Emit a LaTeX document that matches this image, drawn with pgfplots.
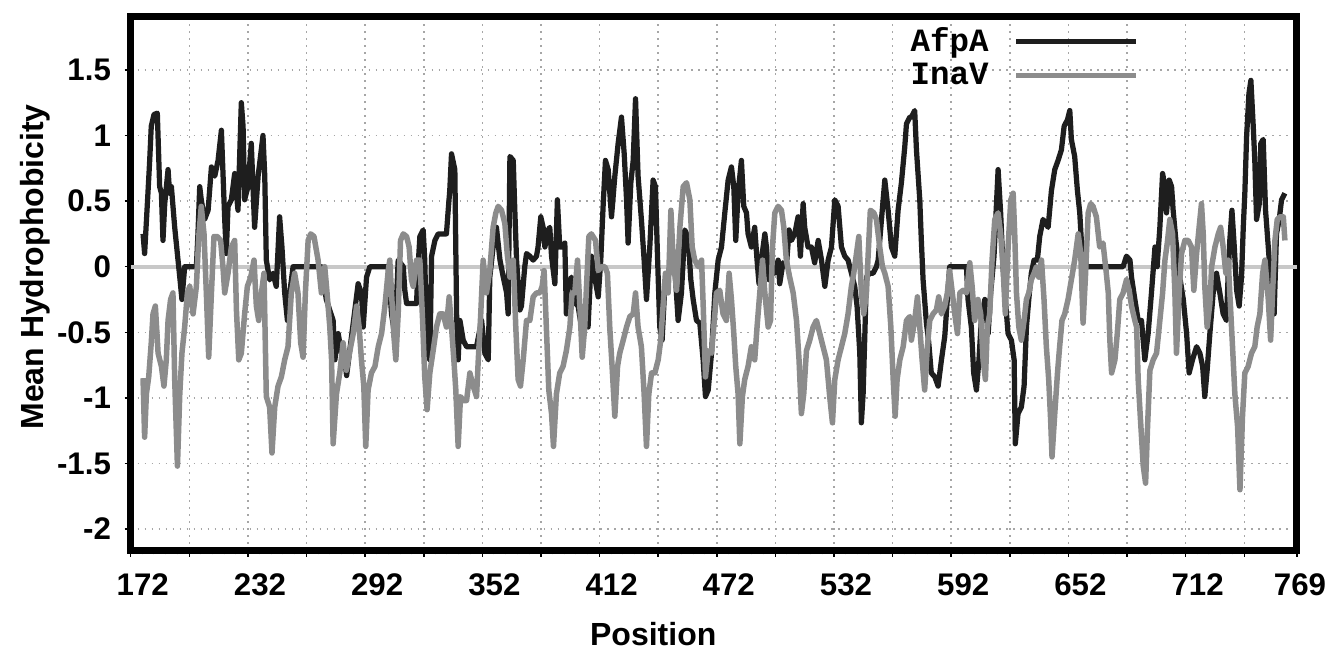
\documentclass[border=0pt]{standalone}
\usepackage{fontspec}
\setmainfont{Liberation Sans}
\newfontfamily\monofont{Liberation Mono}
\usepackage{pgfplots}
\pgfplotsset{compat=1.18}

\definecolor{afpa}{HTML}{1E1E1E}
\definecolor{inav}{HTML}{8C8C8C}
\definecolor{zeroline}{HTML}{C8C8C8}

\begin{document}
\begin{tikzpicture}
\begin{axis}[
    scale only axis,
    width=466.5pt, height=213.6pt,
    xmin=172, xmax=769, ymin=-2.167, ymax=1.903,
    axis line style={line width=2.8pt, black},
    xtick={172,202,...,742},
    xticklabels={172,,232,,292,,352,,412,,472,,532,,592,,652,,712,},
    extra x ticks={769},
    extra x tick labels={769},
    extra x tick style={grid=none, xticklabel style={xshift=-3.6pt}},
    ytick={-2,-1.5,...,1.5},
    minor x tick num=4,
    minor y tick num=4,
    xtick pos=left, ytick pos=left,
    tick align=outside,
    major tick length=2.4pt, minor tick length=1.4pt,
    every tick/.style={black, line width=0.6pt},
    grid=major,
    major grid style={gray!70, line width=0.6pt, dash pattern=on 0.7pt off 2.1pt},
    /pgf/number format/assume math mode=true,
    tick label style={font=\bfseries\fontsize{12.5}{14}\selectfont},
    xticklabel style={anchor=north, xshift=4.8pt, yshift=-3pt},
    yticklabel style={xshift=-2pt},
    xlabel={Position},
    ylabel={Mean Hydrophobicity},
    label style={font=\bfseries\fontsize{12.8}{14}\selectfont},
    xlabel style={at={(axis description cs:0.448,-0.155)}, anchor=center},
    ylabel style={at={(axis description cs:-0.0815,0.532)}, anchor=center},
    legend plot pos=right,
    legend image code/.code={\draw[#1] (0pt,0pt) -- (48pt,0pt);},
    legend style={at={(axis description cs:0.664,0.990)}, anchor=north west,
        draw=none, fill=none, inner sep=0pt, row sep=-1pt, column sep=8pt,
        font=\monofont\bfseries\fontsize{13}{15}\selectfont,
        cells={anchor=east}},
]
\addplot[zeroline, line width=1.6pt, forget plot] coordinates {(172,0) (769,0)};

\addplot[afpa, line width=2.1pt, line join=round] coordinates {
(178.3,0.25) (179.1,0.10) (180.8,0.56) (181.7,0.81) (182.5,1.07) (183.9,1.16) (185.6,1.17)
(186.8,0.61) (187.7,0.56) (188.5,0.20) (189.4,0.48) (191.1,0.74) (191.9,0.56) (192.8,0.61)
(194.5,0.30) (196.2,0.05) (197.1,-0.08) (198.2,-0.25) (199.6,0) (205.6,0) (206.4,0.25)
(207.3,0.61) (208.1,0.51) (209.8,0.36) (211.6,0.43) (213.3,0.76) (215.0,0.69) (216.7,0.81)
(218.4,1.04) (220.1,0.36) (220.9,0.10) (221.8,0.46) (223.5,0.51) (225.2,0.71) (226.9,0.43)
(228.6,1.25) (229.5,1.07) (230.3,0.51) (232.0,0.61) (233.7,0.94) (235.4,0.30) (237.2,0.69)
(239.7,1.00) (240.6,0.69) (241.4,0.05) (243.1,-0.10) (244.8,-0.05) (246.5,-0.15) (248.2,0.38)
(249.4,0.15) (250.8,-0.20) (252.2,-0.41) (253.4,-0.20) (255.1,0) (269.6,0) (272.1,-0.25)
(275.6,-0.41) (276.5,-0.71) (278.2,-0.51) (279.9,-0.66) (280.7,-0.61) (282.5,-0.83)
(288.4,-0.13) (290.1,-0.20) (291.0,-0.46) (292.7,-0.08) (294.4,0) (303.8,0) (305.5,-0.36)
(307.2,-0.53) (308.9,0.05) (311.5,0) (312.3,-0.18) (313.2,-0.28) (318.3,-0.28) (319.1,0)
(320.0,0.23) (321.7,0.28) (322.5,0.05) (323.7,-0.66) (325.1,-0.71) (326.0,0.08) (327.7,0.20)
(329.4,0.25) (333.6,0.25) (334.5,0.43) (335.3,0.58) (336.2,0.86) (337.9,0.74) (338.8,-0.36)
(339.6,-0.71) (340.5,-0.41) (342.2,-0.56) (343.9,-0.61) (349.0,-0.61) (351.6,-0.41)
(353.3,-0.66) (355.0,-0.71) (355.8,-0.08) (357.5,0.15) (359.2,0.30) (361.0,0.05) (362.7,-0.08)
(364.4,-0.20) (365.2,-0.36) (366.1,0.84) (367.8,0.81) (368.6,0.43) (369.5,0.05) (371.2,-0.33)
(372.0,-0.30) (373.7,0) (374.6,0.10) (376.3,0.08) (378.0,0.05) (379.7,0.08) (380.5,0.15)
(381.9,0.38) (383.1,0.30) (384.0,0.15) (385.7,0.28) (386.5,0.30) (387.4,0.08) (389.1,-0.13)
(390.4,0.51) (391.6,0.15) (393.3,0.15) (394.2,0.18) (395.0,-0.36) (395.9,-0.15) (397.6,-0.08)
(398.5,-0.15) (399.7,-0.28) (401.0,-0.30) (402.7,-0.46) (403.6,-0.36) (406.1,-0.46)
(407.8,0.08) (409.5,-0.08) (411.3,-0.23) (412.6,0.05) (413.8,0.46) (415.0,0.81) (416.4,0.74)
(418.1,0.38) (419.8,0.69) (421.5,0.94) (423.2,1.14) (424.6,0.86) (425.8,0.51) (426.6,0.18)
(428.0,0.64) (429.2,0.81) (430.4,1.28) (431.7,0.69) (433.4,0.36) (434.8,0.05) (436.0,-0.25)
(437.7,0.15) (439.4,0.66) (440.6,0.61) (441.6,0.10) (442.8,-0.46) (444.0,-0.56) (445.4,-0.15)
(447.1,-0.08) (448.8,0.03) (450.5,0) (452.2,-0.41) (453.9,-0.20) (455.6,0.28) (457.3,0.23)
(458.7,-0.10) (459.9,-0.25) (461.6,-0.41) (463.3,-0.43) (465.0,-0.71) (466.2,-0.99)
(467.6,-0.94) (469.3,-0.66) (471.0,-0.20) (472.7,0.05) (474.4,0.15) (476.1,0.41) (477.8,0.66)
(479.5,0.76) (480.7,0.61) (481.7,0.20) (482.9,0.56) (484.6,0.81) (485.8,0.46) (487.2,0.41)
(488.0,0.25) (489.7,0.15) (491.4,0.30) (492.6,0.05) (493.6,-0.13) (494.8,0.05) (496.6,0.25)
(497.4,0.15) (498.8,-0.10) (500.0,0.05) (501.7,-0.05) (503.4,0.05) (504.2,-0.13) (505.9,0.03)
(507.6,0) (509.0,0.28) (510.2,0.20) (511.9,0.25) (513.6,0.38) (514.8,0.08) (516.2,0.48)
(517.0,0.30) (518.7,0.15) (520.4,0.15) (522.1,0.03) (523.9,0.20) (525.6,0.05) (527.3,-0.15)
(529.0,0.05) (530.7,0.15) (532.4,0.51) (534.1,0.46) (535.8,0.15) (537.5,0.08) (539.2,0.05)
(540.9,-0.05) (542.6,-0.15) (543.8,-0.30) (545.2,-0.66) (546.0,-1.19) (546.9,-0.97)
(547.7,-0.56) (548.6,-0.08) (550.3,-0.05) (552.0,-0.05) (553.7,0) (554.6,0.05) (556.3,0.36)
(558.0,0.66) (559.7,0.43) (561.4,0.15) (563.1,0.08) (564.8,0.43) (566.5,0.64) (568.2,0.91)
(569.1,1.09) (570.8,1.14) (571.6,1.14) (573.3,1.19) (574.2,0.89) (575.9,0.51) (576.7,0.20)
(577.6,-0.10) (579.3,-0.43) (580.5,-0.58) (581.8,-0.81) (583.6,-0.84) (585.3,-0.91)
(587.0,-0.71) (588.7,-0.53) (590.0,-0.25) (591.2,0) (599.8,0) (600.6,-0.25) (602.3,-0.46)
(603.5,-0.81) (604.9,-0.94) (606.2,-0.71) (607.4,-0.41) (609.2,-0.25) (610.9,-0.51)
(612.2,-0.20) (613.9,0.08) (615.1,0.46) (616.0,0.74) (617.3,0.41) (618.5,0) (619.7,-0.25)
(621.1,-0.51) (622.8,-0.56) (624.2,-0.71) (624.8,-1.35) (626.2,-1.12) (627.9,-1.07)
(629.3,-0.91) (630.5,-0.46) (631.7,-0.25) (633.0,-0.05) (634.4,0.05) (636.1,0.05) (637.3,0.23)
(639.0,0.36) (641.6,0.30) (643.3,0.58) (645.0,0.74) (646.7,0.81) (648.4,0.89) (649.8,1.07)
(651.5,1.12) (652.7,1.19) (653.5,0.97) (655.2,0.84) (656.6,0.58) (657.8,0.41) (658.6,0.20)
(659.5,0) (680.0,0) (681.7,0.08) (683.5,0.05) (684.3,-0.08) (686.0,-0.25) (687.7,-0.41)
(689.4,-0.41) (691.1,-0.71) (692.8,-0.51) (694.5,-0.20) (696.3,0.15) (697.4,0) (698.8,0.30)
(700.2,0.71) (701.4,0.61) (702.2,0.41) (703.6,0.66) (704.8,0.61) (705.6,0.43) (707.0,0.20)
(708.2,0.05) (709.0,-0.08) (710.8,-0.25) (712.5,-0.51) (713.8,-0.81) (715.5,-0.71)
(717.6,-0.61) (719.3,-0.66) (720.7,-0.76) (721.8,-0.99) (723.0,-0.79) (724.4,-0.51)
(726.1,-0.20) (727.8,-0.05) (729.5,-0.20) (731.2,-0.36) (732.9,-0.41) (733.8,-0.05)
(734.6,0.20) (735.7,0.43) (736.9,0.15) (738.1,-0.18) (739.4,-0.30) (740.6,-0.08) (741.5,0.30)
(742.3,0.56) (743.2,0.99) (744.4,1.32) (745.4,1.42) (746.6,1.07) (747.4,0.81) (748.3,0.36)
(749.7,0.48) (750.5,0.94) (751.7,0.97) (752.9,0.43) (754.3,0.15) (756.0,-0.20) (757.3,-0.36)
(758.5,0.25) (759.9,0.36) (761.1,0.51) (762.8,0.56)
};
\addlegendentry{AfpA}

\addplot[inav, line width=2.2pt, line join=round] coordinates {
(178.3,-0.85) (179.1,-1.30) (180.0,-0.97) (181.2,-0.84) (182.5,-0.58) (183.4,-0.36)
(184.6,-0.30) (186.0,-0.66) (187.7,-0.76) (189.0,-0.91) (190.2,-0.71) (191.1,-0.41)
(192.4,-0.25) (193.6,-0.20) (194.5,-0.86) (195.9,-1.52) (197.1,-0.97) (198.2,-0.66)
(199.6,-0.46) (201.0,-0.20) (202.2,-0.15) (203.9,-0.36) (205.6,-0.15) (206.8,0.23)
(208.1,0.46) (209.5,0.25) (210.7,-0.20) (211.9,-0.69) (213.3,-0.20) (214.6,0.23) (216.3,0.23)
(218.0,0.20) (219.2,0) (220.1,-0.20) (221.8,-0.05) (223.5,0.15) (225.2,0.20) (226.1,-0.33)
(227.3,-0.71) (228.6,-0.66) (230.3,-0.36) (231.7,-0.15) (233.4,-0.08) (235.1,0.05)
(236.3,-0.30) (237.5,-0.41) (238.9,-0.20) (240.2,-0.05) (241.4,-0.99) (243.1,-1.07)
(244.3,-1.42) (245.7,-1.07) (247.4,-0.91) (249.1,-0.84) (250.8,-0.71) (252.5,-0.61)
(254.2,-0.20) (255.9,-0.05) (257.6,-0.20) (259.0,-0.58) (260.2,-0.69) (261.4,-0.20)
(262.8,0.20) (264.1,0.25) (265.8,0.23) (267.9,0.05) (269.6,-0.20) (271.3,0) (272.2,-0.15)
(273.9,-0.46) (274.8,-0.71) (275.6,-1.35) (277.3,-0.97) (279.0,-0.81) (280.7,-0.58)
(282.4,-0.79) (284.2,-0.64) (285.9,-0.51) (287.6,-0.30) (288.9,-0.46) (290.1,-0.71)
(291.3,-0.91) (292.3,-1.37) (293.5,-0.94) (295.2,-0.81) (297.0,-0.76) (298.7,-0.61)
(300.4,-0.51) (302.1,-0.30) (303.8,-0.03) (304.6,0.05) (305.5,-0.20) (306.7,-0.53)
(307.7,-0.71) (308.9,-0.36) (310.1,0.20) (311.5,0.25) (313.2,0.23) (314.5,0.15) (315.7,-0.10)
(316.6,-0.15) (318.3,0.05) (320.0,0.05) (321.4,-0.41) (322.5,-0.84) (323.7,-1.09)
(325.1,-0.81) (326.8,-0.64) (328.5,-0.46) (330.2,-0.36) (331.9,-0.36) (333.6,-0.46)
(335.0,-0.23) (336.2,-0.46) (337.4,-0.71) (338.4,-0.94) (339.6,-1.37) (340.8,-0.99)
(342.2,-1.02) (343.9,-1.02) (345.6,-0.81) (347.3,-0.91) (349.0,-0.99) (349.9,-0.71)
(351.1,-0.38) (352.4,0.05) (354.1,-0.20) (355.8,-0.03) (357.5,0.30) (358.9,0.41) (360.1,0.46)
(361.8,0.43) (363.5,0.33) (364.7,0.10) (366.1,-0.08) (367.8,0.05) (369.1,-0.46) (370.3,-0.86)
(371.5,-0.91) (372.9,-0.71) (374.6,-0.41) (376.3,-0.41) (378.0,-0.23) (379.7,-0.20)
(381.4,-0.20) (382.6,-0.15) (383.6,-0.03) (384.8,-0.48) (386.0,-0.94) (387.4,-1.12)
(388.4,-1.37) (389.9,-0.97) (391.6,-0.81) (393.3,-0.76) (395.0,-0.64) (396.8,-0.46)
(397.9,-0.20) (399.3,-0.20) (400.7,0.05) (401.9,-0.30) (403.1,-0.69) (404.4,-0.46)
(405.3,-0.15) (406.5,0.23) (407.8,0.25) (409.9,0.20) (411.3,-0.03) (413.0,0) (414.7,0)
(416.0,-0.05) (417.2,-0.46) (418.4,-0.76) (419.8,-1.14) (421.2,-0.76) (422.3,-0.66)
(424.1,-0.56) (425.8,-0.46) (427.5,-0.38) (429.2,-0.36) (430.4,-0.20) (431.7,-0.46)
(433.4,-0.61) (434.8,-0.97) (436.0,-1.37) (437.2,-0.97) (438.6,-0.81) (440.3,-0.81)
(442.0,-0.71) (443.3,-0.56) (444.5,-0.30) (445.7,-0.05) (447.1,-0.20) (448.5,0.43)
(449.7,0.05) (451.4,-0.18) (453.1,0.30) (454.8,0.61) (456.5,0.64) (458.2,0.51) (459.4,0.15)
(460.7,0.05) (462.5,0) (464.2,0.05) (465.0,-0.28) (466.2,-0.84) (467.6,-0.64) (469.3,-0.66)
(471.0,-0.36) (471.8,-0.20) (473.5,-0.18) (475.2,-0.36) (476.9,-0.41) (478.3,-0.05)
(479.5,-0.25) (480.7,-0.51) (481.7,-0.76) (482.9,-0.97) (483.8,-1.35) (485.1,-0.99)
(486.3,-0.86) (488.0,-0.76) (489.7,-0.61) (491.4,-0.71) (492.6,-0.46) (494.0,-0.20)
(495.4,0.05) (496.6,-0.20) (498.3,-0.46) (499.5,-0.41) (500.5,0.15) (501.7,0.41) (503.4,0.46)
(505.1,0.43) (506.3,0.30) (507.6,0.05) (509.3,-0.08) (511.1,-0.20) (512.8,-0.41)
(514.1,-0.71) (515.3,-1.12) (516.5,-0.97) (517.9,-0.64) (519.6,-0.56) (521.3,-0.46)
(523.0,-0.41) (524.7,-0.51) (526.4,-0.61) (528.1,-0.71) (529.8,-0.99) (531.2,-1.19)
(532.4,-0.86) (534.1,-0.71) (535.8,-0.61) (537.5,-0.51) (539.2,-0.36) (540.9,-0.15)
(542.1,-0.05) (543.5,0.10) (544.7,0.23) (546.0,-0.20) (547.2,-0.36) (548.6,-0.20)
(549.5,0.10) (550.6,0.43) (552.4,0.41) (553.7,0.36) (555.4,0.15) (556.8,0) (558.0,-0.05)
(559.7,-0.15) (561.1,-0.46) (562.3,-0.86) (563.3,-1.14) (564.3,-0.86) (565.7,-0.71)
(567.4,-0.61) (569.1,-0.41) (570.8,-0.38) (571.6,-0.56) (573.3,-0.41) (574.7,-0.23)
(575.9,-0.46) (577.1,-0.71) (578.4,-0.94) (579.8,-0.61) (581.0,-0.41) (582.7,-0.36)
(584.4,-0.33) (585.6,-0.23) (587.0,-0.36) (588.7,-0.30) (590.0,-0.20) (591.2,-0.03)
(592.4,-0.18) (593.8,-0.36) (595.2,-0.51) (596.4,-0.20) (598.1,-0.18) (599.8,-0.20)
(601.5,0.03) (602.7,-0.15) (604.0,-0.41) (605.7,-0.25) (607.1,-0.36) (608.3,-0.71)
(609.5,-0.86) (610.5,-0.46) (611.7,-0.36) (612.9,0.05) (614.3,0.36) (616.0,0.41) (617.3,0.25)
(618.5,0) (619.7,-0.36) (621.1,0.15) (622.5,0.51) (623.7,0.56) (624.5,0.25) (625.4,-0.20)
(626.6,-0.46) (627.9,-0.56) (629.3,-0.41) (630.5,-0.25) (631.7,-0.20) (633.0,-0.10)
(634.4,-0.05) (635.6,0) (636.8,-0.08) (638.2,0.05) (639.5,-0.25) (640.7,-0.61) (641.9,-0.86)
(642.9,-1.17) (643.6,-1.45) (645.0,-1.12) (646.4,-0.81) (647.5,-0.61) (648.7,-0.41)
(650.1,-0.36) (651.8,-0.25) (653.5,-0.10) (655.2,0.05) (657.0,0.25) (658.3,0.10) (659.5,-0.43)
(660.7,-0.08) (662.1,0.41) (663.4,0.48) (664.6,0.46) (666.3,0.38) (668.0,0.15) (669.7,0.18)
(671.4,-0.05) (672.4,-0.20) (673.2,-0.56) (674.1,-0.81) (675.8,-0.71) (677.0,-0.51)
(678.3,-0.25) (680.0,-0.20) (681.7,-0.10) (683.1,-0.18) (684.3,-0.30) (686.0,-0.41)
(686.9,-0.46) (687.7,-0.86) (688.9,-1.17) (690.3,-1.52) (691.5,-1.65) (692.5,-1.22)
(693.7,-0.79) (695.4,-0.71) (697.1,-0.66) (698.8,-0.41) (700.2,-0.20) (701.4,0.05)
(702.6,0.18) (703.9,0.36) (705.3,0.25) (706.5,-0.20) (707.3,-0.66) (708.7,-0.20) (709.9,0.10)
(711.6,0.20) (713.3,0.20) (715.0,0.15) (716.2,-0.18) (717.6,0.10) (718.9,0.30) (720.1,0.48)
(721.0,0.25) (721.8,-0.15) (723.0,-0.46) (724.4,-0.28) (725.3,0) (727.0,0.15) (728.7,0.25)
(729.9,0.30) (731.2,0.15) (732.6,-0.05) (733.8,0.05) (734.6,-0.20) (736.0,-0.61) (737.2,-0.97)
(738.6,-1.22) (739.8,-1.70) (741.1,-1.14) (742.3,-0.81) (744.0,-0.76) (745.7,-0.66)
(747.4,-0.61) (748.6,-0.46) (750.0,-0.36) (751.4,-0.05) (752.6,0.05) (754.3,-0.25)
(755.5,-0.56) (756.5,-0.20) (757.7,0.20) (758.9,0.36) (760.2,0.38) (762.0,0.38) (762.8,0.20)
};
\addlegendentry{InaV}
\end{axis}
\pgfresetboundingbox
\useasboundingbox (-52.3pt,-39.2pt) rectangle (478.5pt,220.4pt);
\end{tikzpicture}
\end{document}
